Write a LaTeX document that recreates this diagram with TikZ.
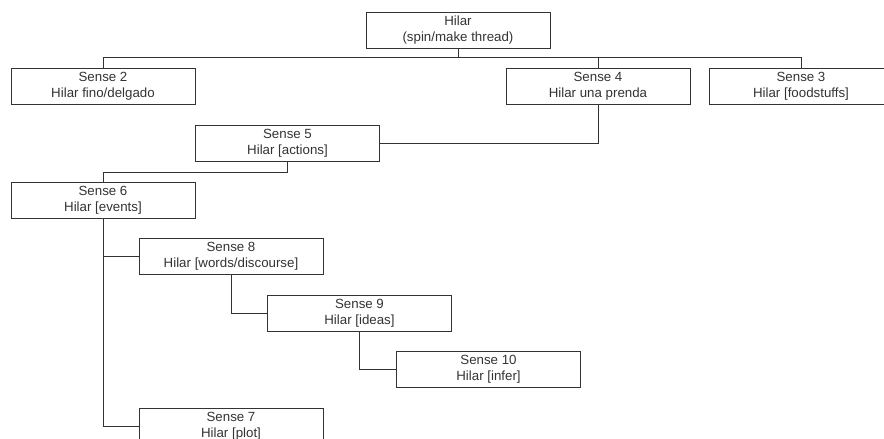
\documentclass[tikz,border=0pt]{standalone}
\usepackage{fontspec}
\setmainfont{Liberation Sans}
\begin{document}
\begin{tikzpicture}[x=1pt,y=-1pt,line width=0.9pt,color=black!80,
  every node/.style={minimum width=184pt,minimum height=36pt,inner sep=0pt,align=center,font=\fontsize{13.3}{16}\selectfont}]

\useasboundingbox (0,0) rectangle (884,439);
\clip (0,0) rectangle (884,439);

\node[draw] (h) at (458,30) {Hilar\\(spin/make thread)};

\foreach \n/\x/\y/\v in {2/103/86/{fino/delgado},4/598/86/una prenda,3/801/86/[foodstuffs],
  5/287.5/143/[actions],6/103/200/[events],8/231/256/{[words/discourse]},
  9/359.5/313/[ideas],10/488.5/369.5/[infer],7/231/426/[plot]}
\node[draw] (s\n) at (\x,\y) {Sense \n\\Hilar \v};

\draw (h.south) -- ++(0,9) coordinate (bus);
\draw (s2.north) |- (bus) -| (s3.north);
\draw (s4.north) -- (s4.north |- bus);
\draw (s4.south) |- (s5.east);
\draw (s5.south) -- ++(0,11) -| (s6.north);
\draw (s6.south) |- (s8.west);
\draw (s6.south) |- (s7.west);
\draw (s8.south) |- (s9.west);
\draw (s9.south) |- (s10.west);

\end{tikzpicture}
\end{document}
